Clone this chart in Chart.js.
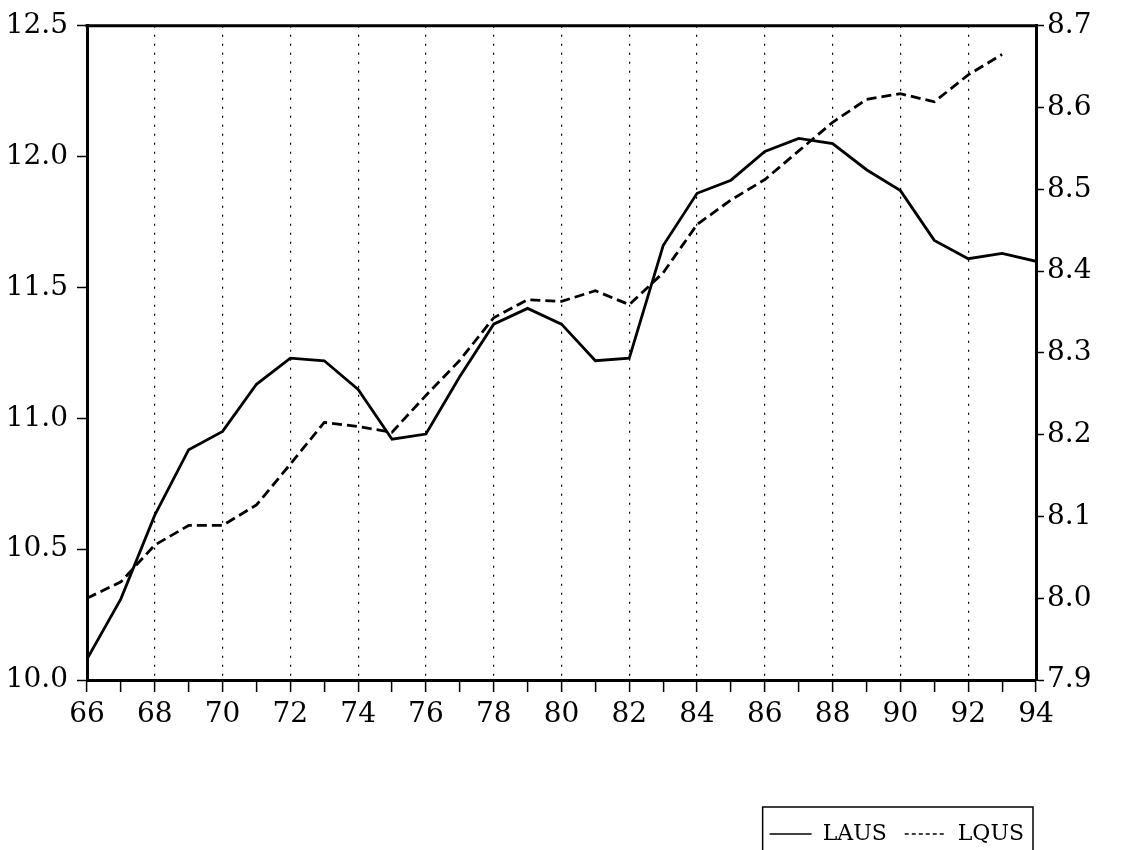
<!DOCTYPE html>
<html>
<head>
<meta charset="utf-8">
<script src="https://cdn.jsdelivr.net/npm/chart.js@4"></script>
<style>
  body { margin: 0; background: #fff; overflow: hidden; }
  canvas { display: block; }
</style>
</head>
<body>
<canvas id="chart" width="1121" height="870"></canvas>
<script>
// years 1966..1994
var years = [66, 67, 68, 69, 70, 71, 72, 73, 74, 75, 76, 77, 78, 79, 80,
             81, 82, 83, 84, 85, 86, 87, 88, 89, 90, 91, 92, 93, 94]
// LAUS, left axis
var laus = [10.08, 10.31, 10.63, 10.88, 10.95, 11.13, 11.23, 11.22, 11.11, 10.92,
            10.94, 11.16, 11.36, 11.42, 11.36, 11.22, 11.23, 11.66, 11.86, 11.91,
            12.02, 12.07, 12.05, 11.95, 11.87, 11.68, 11.61, 11.63, 11.60]
// LQUS, right axis (no value for 94)
var lqus = [8.00, 8.02, 8.065, 8.089, 8.089, 8.114, 8.164, 8.215, 8.21, 8.203,
            8.248, 8.291, 8.343, 8.365, 8.363, 8.376, 8.359, 8.398, 8.457, 8.487,
            8.512, 8.547, 8.582, 8.61, 8.617, 8.607, 8.64, 8.665, null]
var leftTicks = [10.0, 10.5, 11.0, 11.5, 12.0, 12.5]
var rightTicks = [7.9, 8.0, 8.1, 8.2, 8.3, 8.4, 8.5, 8.6, 8.7]

Chart.defaults.font.family = "DejaVu Serif"
Chart.defaults.color = "#000"

function pts(vals) {
    return years.map(function(y, i) { return {x: y, y: vals[i]} })
}

// top edge of the frame + box round the legend
var framePlugin = {
    id: "frame",
    afterLayout: function(chart) {
        // legend box sits under the plot, not at the page edge
        chart.legend.left -= 79
        chart.legend.right -= 79
    },
    afterDraw: function(chart) {
        var ctx = chart.ctx, a = chart.chartArea
        ctx.save()
        ctx.strokeStyle = "#000"
        ctx.lineWidth = 3
        ctx.beginPath()
        ctx.moveTo(a.left - 1.5, a.top)
        ctx.lineTo(a.right + 1.5, a.top)
        ctx.stroke()

        var hb = chart.legend.legendHitBoxes
        if (hb && hb.length) {
            var l = Math.min.apply(null, hb.map(function(h) { return h.left }))
            var r = Math.max.apply(null, hb.map(function(h) { return h.left + h.width }))
            var t = Math.min.apply(null, hb.map(function(h) { return h.top }))
            ctx.lineWidth = 1.5
            ctx.strokeRect(l - 7, t - 16, r - l + 16, chart.height)
        }
        ctx.restore()
    }
}

new Chart(document.getElementById("chart"), {
    type: "line",
    data: {
        datasets: [{
            label: "LAUS",
            data: pts(laus),
            yAxisID: "y",
            borderColor: "#000",
            backgroundColor: "#000",
            borderWidth: 2.8,
            pointRadius: 0,
            tension: 0
        }, {
            label: "LQUS",
            data: pts(lqus),
            yAxisID: "y1",
            borderColor: "#000",
            backgroundColor: "#000",
            borderWidth: 2.8,
            borderDash: [10, 5],
            pointRadius: 0,
            tension: 0,
            spanGaps: false
        }]
    },
    options: {
        responsive: false,
        animation: false,
        devicePixelRatio: 1,
        layout: { padding: { top: 23, left: 0, right: 0, bottom: 15 } },
        plugins: {
            tooltip: { enabled: false },
            legend: {
                position: "bottom",
                align: "end",
                labels: {
                    usePointStyle: true,
                    pointStyle: "line",
                    pointStyleWidth: 42,
                    padding: 18,
                    font: { size: 22 },
                    color: "#000",
                    generateLabels: function(chart) {
                        var items = Chart.defaults.plugins.legend.labels.generateLabels(chart)
                        items.forEach(function(it) {
                            var ds = chart.data.datasets[it.datasetIndex]
                            it.lineDash = ds.borderDash ? [4, 3] : []
                            it.lineWidth = 1.5
                        })
                        return items
                    }
                }
            }
        },
        scales: {
            x: {
                type: "linear",
                min: 66,
                max: 94,
                ticks: {
                    stepSize: 1,
                    autoSkip: false,
                    maxRotation: 0,
                    padding: 6,
                    font: { size: 28 },
                    callback: function(v) { return v % 2 === 0 ? String(v) : "" }
                },
                grid: {
                    color: function(c) {
                        var v = c.tick && c.tick.value
                        return (v % 2 === 0 && v > 66 && v < 94) ? "#000" : "rgba(0,0,0,0)"
                    },
                    lineWidth: 1.2,
                    tickColor: "#000",
                    tickLength: 12,
                    tickWidth: 1.5
                },
                border: { color: "#000", width: 3, dash: [2, 7] },
                afterFit: function(s) { s.height = 125 }
            },
            y: {
                position: "left",
                min: 10.0,
                max: 12.5,
                afterBuildTicks: function(s) { s.ticks = leftTicks.map(function(v) { return {value: v} }) },
                ticks: {
                    padding: 9,
                    font: { size: 28 },
                    callback: function(v) { return Number(v).toFixed(1) }
                },
                grid: { drawOnChartArea: false, tickColor: "#000", tickLength: 10, tickWidth: 1.5 },
                border: { color: "#000", width: 3 },
                afterFit: function(s) { s.width = 87 }
            },
            y1: {
                position: "right",
                min: 7.9,
                max: 8.7,
                afterBuildTicks: function(s) { s.ticks = rightTicks.map(function(v) { return {value: v} }) },
                ticks: {
                    padding: 3,
                    font: { size: 28 },
                    callback: function(v) { return Number(v).toFixed(1) }
                },
                grid: { drawOnChartArea: false, tickColor: "#000", tickLength: 8, tickWidth: 1.5 },
                border: { color: "#000", width: 3 },
                afterFit: function(s) { s.width = 85 }
            }
        }
    },
    plugins: [framePlugin]
})
</script>
</body>
</html>
